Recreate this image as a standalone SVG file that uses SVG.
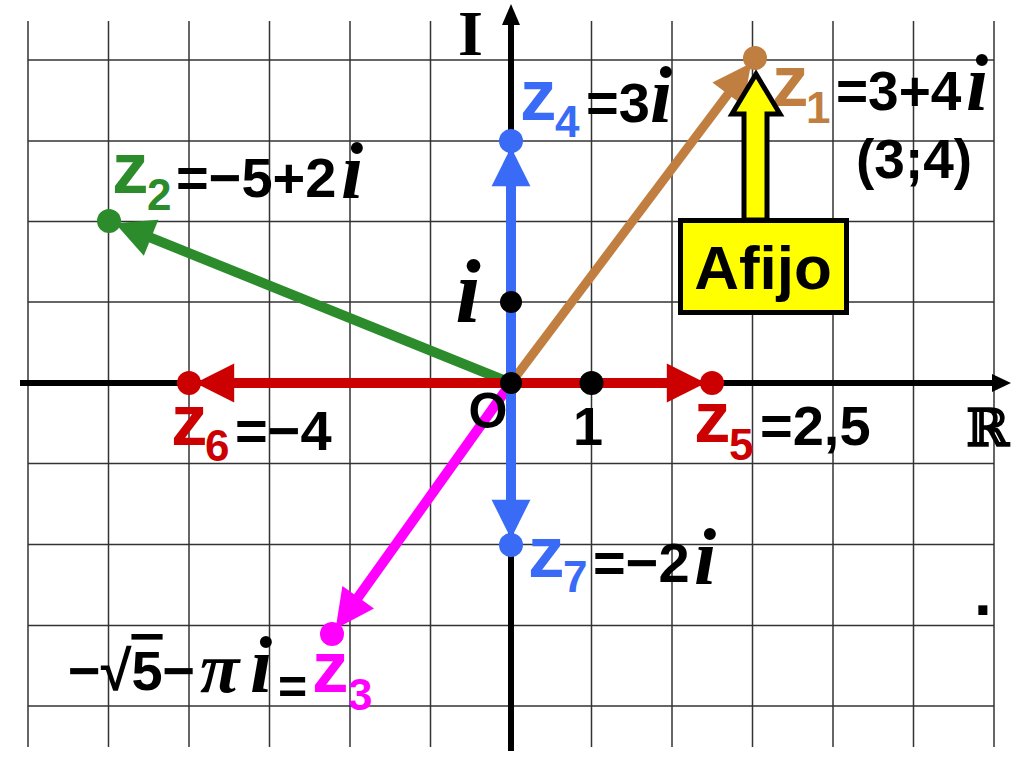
<svg xmlns="http://www.w3.org/2000/svg" width="1024" height="768" viewBox="0 0 1024 768">
<style>
.grid line{stroke:#333;stroke-width:1.5}
.s{font-family:"Liberation Sans",Arial,sans-serif;font-weight:bold}
.it{font-family:"Liberation Serif","Times New Roman",serif;font-weight:bold;font-style:italic}
.sf{font-family:"Liberation Serif","Times New Roman",serif;font-weight:bold}
</style>
<defs>
<marker id="ahBrown" markerUnits="userSpaceOnUse" orient="auto" markerWidth="40" markerHeight="40" refX="1" refY="17" viewBox="0 0 34 34" overflow="visible"><path d="M0,0.5 L33,17 L0,33.5 Z" fill="#c07f40"/></marker>
<marker id="ahGreen" markerUnits="userSpaceOnUse" orient="auto" markerWidth="40" markerHeight="40" refX="1" refY="17" viewBox="0 0 34 34" overflow="visible"><path d="M0,0.5 L33,17 L0,33.5 Z" fill="#2c8c2c"/></marker>
<marker id="ahMag" markerUnits="userSpaceOnUse" orient="auto" markerWidth="40" markerHeight="40" refX="1" refY="17" viewBox="0 0 34 34" overflow="visible"><path d="M0,0.5 L33,17 L0,33.5 Z" fill="#ff00ff"/></marker>
<marker id="ahBlue" markerUnits="userSpaceOnUse" orient="auto" markerWidth="40" markerHeight="40" refX="1" refY="17" viewBox="0 0 34 34" overflow="visible"><path d="M0,0.5 L33,17 L0,33.5 Z" fill="#3a6bf7"/></marker>
<marker id="ahRed" markerUnits="userSpaceOnUse" orient="auto" markerWidth="40" markerHeight="40" refX="1" refY="17" viewBox="0 0 34 34" overflow="visible"><path d="M0,0.5 L33,17 L0,33.5 Z" fill="#cc0000"/></marker>
</defs>
<rect width="1024" height="768" fill="#fff"/>
<g id="grid" class="grid">
<line x1="28" y1="21" x2="28" y2="747"/>
<line x1="108.5" y1="21" x2="108.5" y2="747"/>
<line x1="189" y1="21" x2="189" y2="747"/>
<line x1="269.5" y1="21" x2="269.5" y2="747"/>
<line x1="350" y1="21" x2="350" y2="747"/>
<line x1="430.5" y1="21" x2="430.5" y2="747"/>
<line x1="591.5" y1="21" x2="591.5" y2="747"/>
<line x1="672" y1="21" x2="672" y2="747"/>
<line x1="752.5" y1="21" x2="752.5" y2="747"/>
<line x1="833" y1="21" x2="833" y2="747"/>
<line x1="913.5" y1="21" x2="913.5" y2="747"/>
<line x1="994" y1="21" x2="994" y2="747"/>
<line x1="28" y1="60" x2="994" y2="60"/>
<line x1="28" y1="141" x2="994" y2="141"/>
<line x1="28" y1="221.5" x2="994" y2="221.5"/>
<line x1="28" y1="302" x2="994" y2="302"/>
<line x1="28" y1="463.5" x2="994" y2="463.5"/>
<line x1="28" y1="544.5" x2="994" y2="544.5"/>
<line x1="28" y1="625.5" x2="994" y2="625.5"/>
<line x1="28" y1="706" x2="994" y2="706"/>
</g>
<g id="axes">
<line x1="20" y1="383" x2="996" y2="383" stroke="#000" stroke-width="6"/>
<polygon points="1011,383 992,374 992,392" fill="#000"/>
<line x1="511" y1="751" x2="511" y2="20" stroke="#000" stroke-width="6"/>
<polygon points="511,4 502,25 520,25" fill="#000"/>
<text class="sf" font-size="64" x="458" y="55">I</text>
<text font-family="DejaVu Serif, serif" font-weight="bold" font-size="52" x="966" y="446">ℝ</text>
</g>
<g id="connectors" fill="none" stroke-linecap="butt">
<line x1="511" y1="383" x2="150" y2="237.4" stroke="#2c8c2c" stroke-width="10" marker-end="url(#ahGreen)"/>
<line x1="511" y1="383" x2="357.5" y2="598.2" stroke="#ff00ff" stroke-width="10" marker-end="url(#ahMag)"/>
<line x1="511" y1="383" x2="728.6" y2="93.2" stroke="#c07f40" stroke-width="9" marker-end="url(#ahBrown)"/>
<line x1="511" y1="383" x2="233" y2="383" stroke="#cc0000" stroke-width="10" marker-end="url(#ahRed)"/>
<line x1="511" y1="383" x2="668" y2="383" stroke="#cc0000" stroke-width="10" marker-end="url(#ahRed)"/>
<line x1="511" y1="383" x2="511" y2="185" stroke="#3a6bf7" stroke-width="10" marker-end="url(#ahBlue)"/>
<line x1="511" y1="383" x2="511" y2="501" stroke="#3a6bf7" stroke-width="10" marker-end="url(#ahBlue)"/>
</g>
<g id="origin">
<circle cx="511" cy="383" r="11" fill="#000"/>
<text class="s" font-size="50" x="488" y="428" text-anchor="middle">O</text>
</g>
<g id="one">
<circle cx="591.5" cy="383" r="12" fill="#000"/>
<text class="s" font-size="54" x="588" y="445" text-anchor="middle">1</text>
</g>
<g id="unit-i">
<circle cx="511" cy="302" r="11" fill="#000"/>
<text class="it" font-size="92" x="468" y="322" text-anchor="middle">i</text>
</g>
<g id="z1">
<circle cx="755" cy="58" r="12" fill="#c07f40"/>
<text class="s" fill="#c07f40" font-size="73" x="772" y="106">z</text>
<text class="s" fill="#c07f40" font-size="44" x="806" y="123">1</text>
<text class="s" font-size="55" x="836" y="110">=3+4</text>
<text class="it" font-size="80" x="966" y="110">i</text>
<text class="s" font-size="55" x="856" y="178">(3;4)</text>
</g>
<g id="z2">
<circle cx="109" cy="221" r="12" fill="#2c8c2c"/>
<text class="s" fill="#2c8c2c" font-size="73" x="112" y="193">z</text>
<text class="s" fill="#2c8c2c" font-size="44" x="147" y="210">2</text>
<text class="s" font-size="56" x="176" y="197">=−5+2</text>
<text class="it" font-size="80" x="341" y="198">i</text>
</g>
<g id="z3">
<circle cx="332" cy="634" r="12" fill="#ff00ff"/>
<text class="s" font-size="56" x="68" y="690">−√<tspan text-decoration="overline">5</tspan>−</text>
<text class="it" font-size="72" x="200" y="692">π</text>
<text class="it" font-size="80" x="250" y="692">i</text>
<text class="s" font-size="50" x="278" y="704">=</text>
<text class="s" fill="#ff00ff" font-size="73" x="312" y="692">z</text>
<text class="s" fill="#ff00ff" font-size="44" x="348" y="710">3</text>
</g>
<g id="z4">
<circle cx="511" cy="141" r="12" fill="#3a6bf7"/>
<text class="s" fill="#3a6bf7" font-size="73" x="520" y="120">z</text>
<text class="s" fill="#3a6bf7" font-size="44" x="555" y="137">4</text>
<text class="s" font-size="56" x="586" y="122">=3</text>
<text class="it" font-size="80" x="650" y="122">i</text>
</g>
<g id="z5">
<circle cx="712" cy="383" r="12" fill="#cc0000"/>
<text class="s" fill="#cc0000" font-size="73" x="694" y="442">z</text>
<text class="s" fill="#cc0000" font-size="44" x="729" y="460">5</text>
<text class="s" font-size="56" x="760" y="445">=2,5</text>
</g>
<g id="z6">
<circle cx="189" cy="383" r="12" fill="#cc0000"/>
<text class="s" fill="#cc0000" font-size="73" x="171" y="445">z</text>
<text class="s" fill="#cc0000" font-size="44" x="205" y="461">6</text>
<text class="s" font-size="56" x="235" y="450">=−4</text>
</g>
<g id="z7">
<circle cx="511" cy="545" r="12" fill="#3a6bf7"/>
<text class="s" fill="#3a6bf7" font-size="73" x="528" y="577">z</text>
<text class="s" fill="#3a6bf7" font-size="44" x="563" y="592">7</text>
<text class="s" font-size="56" x="593" y="582">=−2</text>
<text class="it" font-size="80" x="694" y="584">i</text>
</g>
<g id="afijo">
<path d="M756,74 L780,114 L767,114 L767,220 L744,220 L744,114 L732,114 Z" fill="#ffff00" stroke="#000" stroke-width="5" stroke-linejoin="miter"/>
<rect x="680.5" y="220.5" width="166" height="92" fill="#ffff00" stroke="#000" stroke-width="5"/>
<text class="s" font-size="62" x="763" y="289" text-anchor="middle">Afijo</text>
</g>
<text class="s" font-size="64" x="983" y="615" text-anchor="middle">.</text>
</svg>
